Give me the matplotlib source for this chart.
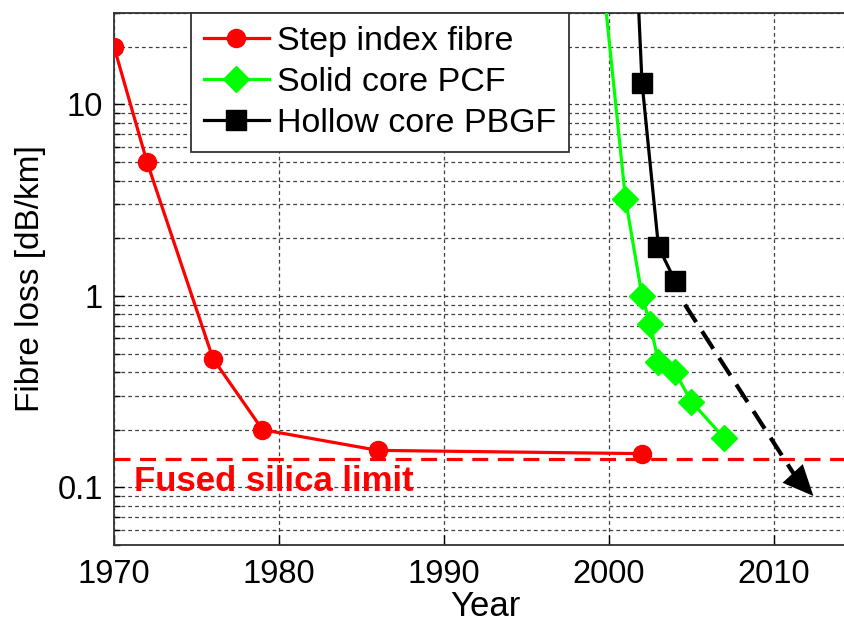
"""Fibre loss versus year for step index, solid core PCF and hollow core PBGF."""

import matplotlib
matplotlib.use('Agg')
import matplotlib.pyplot as plt
from matplotlib.ticker import FixedLocator, NullFormatter, LogLocator

# Data ------------------------------------------------------------------------

step_years = [1970, 1972, 1976, 1979, 1986, 2002]
step_loss = [20, 5, 0.47, 0.2, 0.156, 0.15]

pcf_years = [1999, 2001, 2002, 2002.5, 2003, 2004, 2005, 2007]
pcf_loss = [150, 3.2, 1.0, 0.71, 0.45, 0.40, 0.28, 0.18]

pbgf_years = [2001, 2002, 2003, 2004]
pbgf_loss = [1000, 13, 1.8, 1.2]

trend_years = [2004.6, 2011.3]   # dashed projection for hollow core fibre
trend_loss = [0.9, 0.114]
arrow_tip = (2012.5, 0.088)

silica_limit = 0.14

xticks = [1970, 1980, 1990, 2000, 2010]
yticks = [0.1, 1, 10]
ytick_labels = ['0.1', '1', '10']

# Figure ----------------------------------------------------------------------

plt.rcParams['font.family'] = ['Liberation Sans', 'DejaVu Sans']

W, H = 845, 623
fig = plt.figure(figsize=(W / 100, H / 100), dpi=100)
fig.set_facecolor('white')

# axes placed in pixels; right edge (2015) lies just outside the picture
left, right, top, bottom = 114, 114 + 45 * 16.5, 13, 545
ax = fig.add_axes([left / W, 1 - bottom / H, (right - left) / W,
                   (bottom - top) / H])

ax.set_yscale('log')
ax.set_xlim(1970, 2015)
ax.set_ylim(0.05, 30)

ax.plot(step_years, step_loss, '-o', color='red', lw=2.3, ms=13,
        label='Step index fibre', zorder=4)
ax.plot(pcf_years, pcf_loss, '-D', color='#00ff00', lw=2.3, ms=13,
        label='Solid core PCF', zorder=4)
ax.plot(pbgf_years, pbgf_loss, '-s', color='black', lw=2.3, ms=15,
        label='Hollow core PBGF', zorder=4)

# dashed projection with arrow head
ax.plot(trend_years, trend_loss, color='black', lw=3,
        linestyle=(0, (5, 2.6)), zorder=3)
ax.annotate('', xy=arrow_tip, xytext=(trend_years[1] - 0.2, 0.119),
            arrowprops=dict(arrowstyle='-|>,head_length=1.0,head_width=0.45',
                            color='black', lw=0, mutation_scale=22),
            zorder=3)

# fused silica limit
ax.axhline(silica_limit, color='red', lw=2.3, linestyle=(0, (5, 3)),
           zorder=3)
ax.text(1971.2, 0.107, 'Fused silica limit', color='red', fontsize=25,
        fontweight='bold', va='center', ha='left', zorder=5)

# Axes appearance -------------------------------------------------------------

ax.set_xticks(xticks)
ax.yaxis.set_major_locator(FixedLocator(yticks))
ax.set_yticklabels(ytick_labels)
ax.yaxis.set_minor_locator(LogLocator(base=10, subs=range(2, 10)))
ax.yaxis.set_minor_formatter(NullFormatter())

grid_style = dict(color='0.25', linestyle=(0, (3, 2.5)), linewidth=0.9)
ax.grid(True, which='major', **grid_style)
ax.grid(True, which='minor', axis='y', **grid_style)
ax.set_axisbelow(True)

ax.tick_params(which='both', direction='in', labelsize=23.5, colors='black',
               top=False, right=False)
ax.tick_params(which='major', length=7, width=1)
ax.tick_params(which='minor', length=4, width=1)
ax.tick_params(axis='x', pad=10)
ax.tick_params(axis='y', pad=8)
for side in ['left', 'bottom', 'top']:
    ax.spines[side].set_linewidth(1.3)
    ax.spines[side].set_color('0.2')
ax.spines['right'].set_visible(False)

ax.set_xlabel('Year', fontsize=25, labelpad=0)
ax.set_ylabel('Fibre loss [dB/km]', fontsize=24, labelpad=8)

leg = ax.legend(loc='upper left', bbox_to_anchor=(191 / W, 1 - 13 / H),
                bbox_transform=fig.transFigure, borderaxespad=0,
                fontsize=24.5, fancybox=False, framealpha=1, handlelength=1.9,
                handletextpad=0.25, borderpad=0.38, labelspacing=0.3)
leg.get_frame().set_edgecolor('0.2')
leg.get_frame().set_linewidth(1.3)

fig.savefig('out.png', dpi=100)
